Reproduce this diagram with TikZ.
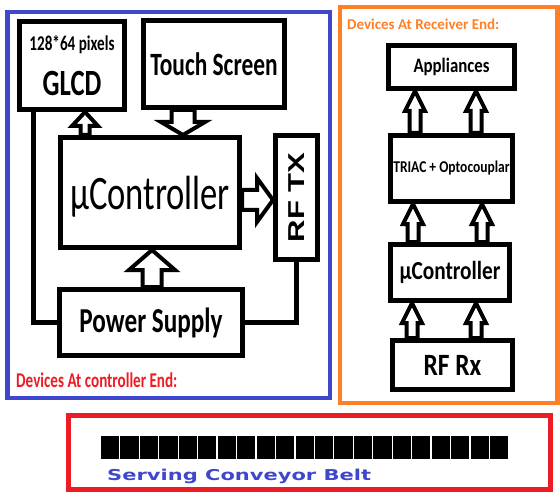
\documentclass[tikz,border=0pt]{standalone}
\usepackage{fontspec}
\setmainfont{Carlito}
\newfontfamily\ctrlfont[FakeStretch=0.72]{Carlito}
\newfontfamily\rxfont[FakeStretch=0.82]{Carlito}
\newfontfamily\rftxfont[FakeStretch=1.35]{Liberation Sans}
\newfontfamily\beltfont[FakeStretch=1.4]{DejaVu Sans}
\usetikzlibrary{calc}
\definecolor{ctrlblue}{RGB}{63,72,204}
\definecolor{rxorange}{RGB}{255,127,39}
\definecolor{beltred}{RGB}{237,28,36}

% hollow block arrow: from, to, shaft half width, head half width, head length
\newcommand{\fatarrow}[5]{%
  \coordinate (fa-s) at (#1);
  \coordinate (fa-t) at (#2);
  \coordinate (fa-h) at ($(fa-t)!#5!(fa-s)$);
  \draw[blockarrow] ($(fa-s)!#3!90:(fa-t)$) -- ($(fa-h)!#3!-90:(fa-s)$)
    -- ($(fa-h)!#4!-90:(fa-s)$) -- (fa-t) -- ($(fa-h)!#4!90:(fa-s)$)
    -- ($(fa-h)!#3!90:(fa-s)$) -- ($(fa-s)!#3!-90:(fa-t)$) -- cycle;
}

\begin{document}
\begin{tikzpicture}[
  x=1pt, y=-1pt,
  box/.style={draw=black, line width=5pt, inner sep=0pt, align=center},
  blockarrow/.style={draw=black, fill=white, line width=4pt, line join=miter},
  wire/.style={draw=black, line width=4.5pt},
  frame/.style={line width=4.5pt},
]
\useasboundingbox (0,0) rectangle (560,492);

% =================================================================
% FRAMES
% =================================================================
\draw[frame, draw=ctrlblue] (7.5,12) rectangle (330,398);
\draw[frame, draw=rxorange] (340,7) rectangle (557.5,403);
\draw[frame, draw=beltred, line width=5pt] (68,415.5) rectangle (550,489);

% =================================================================
% CONTROLLER END
% =================================================================
\node[box, minimum width=105pt, minimum height=88pt,
      font=\ctrlfont\bfseries\fontsize{37}{45}\selectfont] (glcd) at (72,65.5)
  {{\fontsize{21}{26}\selectfont 128*64 pixels}\\GLCD};
\node[box, minimum width=141pt, minimum height=87pt,
      font=\ctrlfont\bfseries\fontsize{32.5}{36}\selectfont] (touch) at (214,64)
  {Touch Screen};
\node[box, minimum width=179pt, minimum height=110pt, text depth=0pt,
      font=\ctrlfont\fontsize{48}{52}\selectfont] (mcu) at (150,192.5)
  {µController};
\node[box, minimum width=42pt, minimum height=124pt] (rftx) at (296.5,197.5)
  {\rotatebox{90}{\rftxfont\bfseries\fontsize{23}{26}\selectfont RF TX}};
\node[box, minimum width=183pt, minimum height=66pt,
      font=\ctrlfont\bfseries\fontsize{35}{40}\selectfont] (power) at (151,322.5)
  {Power Supply};

% supply wires
\coordinate (glcdwire) at ($(glcd.south west)+(16.5,0)$);
\draw[wire] (glcdwire) |- (power.west);
\draw[wire] (rftx.south) |- (power.east);

% block arrows
\coordinate (glcdin) at ($(glcd.south)+(13,0)$);
\fatarrow{glcdin |- mcu.north}{glcdin}{4.5pt}{13pt}{14pt}
\coordinate (touchout) at ($(touch.south)+(-31,0)$);
\fatarrow{touchout}{touchout |- mcu.north}{11.5pt}{22pt}{13pt}
\coordinate (mcuout) at ($(mcu.east)+(0,7.5)$);
\fatarrow{mcuout}{mcuout -| rftx.west}{10pt}{22pt}{16pt}
\coordinate (pwrout) at ($(power.north)+(1,0)$);
\fatarrow{pwrout}{pwrout |- mcu.south}{9.5pt}{23pt}{20pt}

\node[anchor=west, inner sep=0pt, text=beltred,
      font=\ctrlfont\bfseries\fontsize{21}{24}\selectfont] (ctrlend) at (16,380)
  {Devices At controller End:};

% =================================================================
% RECEIVER END
% =================================================================
\node[anchor=west, inner sep=0pt, text=rxorange,
      font=\bfseries\fontsize{15}{18}\selectfont] (rxend) at (347,24)
  {Devices At Receiver End:};

\node[box, minimum width=126pt, minimum height=43pt,
      font=\rxfont\bfseries\fontsize{20.5}{24}\selectfont] (appl) at (451.5,67)
  {Appliances};
\node[box, minimum width=122pt, minimum height=66pt,
      font=\rxfont\bfseries\fontsize{16.5}{20}\selectfont] (triac) at (451.5,168.5)
  {TRIAC + Optocouplar};
\node[box, minimum width=119pt, minimum height=56pt,
      font=\rxfont\bfseries\fontsize{26}{30}\selectfont] (rmcu) at (450,272.5)
  {µController};
\node[box, minimum width=120pt, minimum height=49pt,
      font=\rxfont\bfseries\fontsize{31}{34}\selectfont] (rfrx) at (452.5,365)
  {RF Rx};

\foreach \from/\to/\dx in {rfrx/rmcu/-40.5, rfrx/rmcu/23.5, rmcu/triac/-37,
                           rmcu/triac/32, triac/appl/-36.5, triac/appl/24.5}{
  \coordinate (rxout) at ($(\from.north)+(\dx,0)$);
  \fatarrow{rxout}{rxout |- \to.south}{5.5pt}{10pt}{20pt}
}

% =================================================================
% CONVEYOR BELT
% =================================================================
\foreach \i in {0,...,20}
  \fill[black] ({101+19.45*\i},436) rectangle +(18.2,23);
\node[anchor=west, inner sep=0pt, text=ctrlblue,
      font=\beltfont\bfseries\fontsize{15}{18}\selectfont] (beltname) at (107,476)
  {Serving Conveyor Belt};

\end{tikzpicture}
\end{document}
